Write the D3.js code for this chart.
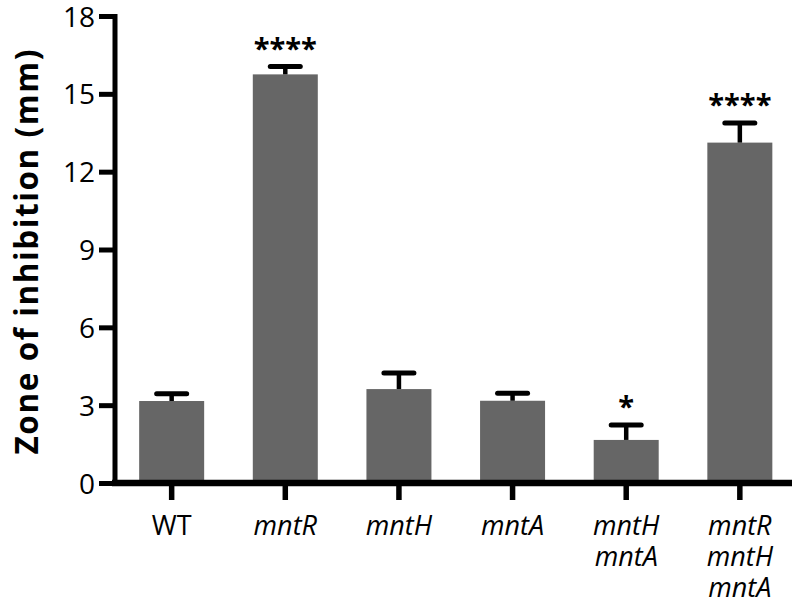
<!DOCTYPE html>
<html>
<head>
<meta charset="utf-8">
<script src="https://cdn.jsdelivr.net/npm/d3@7"></script>
<style>
  html, body { margin: 0; padding: 0; background: #fff; }
  svg { display: block; }
  text { font-family: "Open Sans", "Liberation Sans", sans-serif; fill: #000; }
</style>
</head>
<body>
<svg id="chart" width="800" height="605"></svg>
<script>
// ---- data ----
const categories = ["WT", "mntR", "mntH", "mntA", "mntH mntA", "mntR mntH mntA"];
const labelLines = [["WT"], ["mntR"], ["mntH"], ["mntA"], ["mntH", "mntA"], ["mntR", "mntH", "mntA"]];
const italicLabel = [false, true, true, true, true, true];
const means = [3.16, 15.75, 3.62, 3.17, 1.66, 13.12];
const errors = [0.28, 0.30, 0.62, 0.29, 0.58, 0.76];
const significance = ["", "****", "", "", "*", "****"];
const yTicks = [0, 3, 6, 9, 12, 15, 18];
const yTitle = "Zone of inhibition (mm)";

// ---- layout ----
const svg = d3.select("#chart");
const y = d3.scaleLinear().domain([0, 18]).range([483, 16]);
const x = d3.scaleBand().domain(categories).range([114.5, 797])
  .paddingInner(0.428).paddingOuter(0.217);
const xAxisEnd = 792;

// bars
svg.append("g").selectAll("rect").data(categories).join("rect")
  .attr("x", d => x(d))
  .attr("width", x.bandwidth())
  .attr("y", (d, i) => y(means[i]))
  .attr("height", (d, i) => y(0) - y(means[i]))
  .attr("fill", "#666666");

// error bars (upper only)
const eb = svg.append("g").attr("stroke", "#000").attr("fill", "none");
categories.forEach((c, i) => {
  const cx = x(c) + x.bandwidth() / 2;
  eb.append("line").attr("x1", cx).attr("x2", cx)
    .attr("y1", y(means[i])).attr("y2", y(means[i] + errors[i]))
    .attr("stroke-width", 4.5);
  eb.append("line").attr("x1", cx - 15).attr("x2", cx + 15)
    .attr("y1", y(means[i] + errors[i])).attr("y2", y(means[i] + errors[i]))
    .attr("stroke-width", 5).attr("stroke-linecap", "round");
});

// significance
svg.append("g").selectAll("text").data(categories).join("text")
  .attr("x", d => x(d) + x.bandwidth() / 2)
  .attr("y", (d, i) => y(means[i] + errors[i]) - 8)
  .attr("text-anchor", "middle")
  .attr("font-size", 29)
  .attr("font-weight", 700)
  .text((d, i) => significance[i]);

// y axis
const yAxis = svg.append("g").attr("transform", "translate(114.5,0)")
  .call(d3.axisLeft(y).tickValues(yTicks).tickFormat(d3.format("d")).tickSize(15.5).tickSizeOuter(0).tickPadding(4));
yAxis.select(".domain").attr("stroke-width", 5).attr("stroke-linecap", "square");
yAxis.selectAll(".tick line").attr("stroke-width", 5);
yAxis.selectAll(".tick text").attr("font-size", 28).attr("dy", "0.36em")
  .style("font-family", "'Open Sans', sans-serif");

// x axis
const xAxis = svg.append("g").attr("transform", `translate(0,${y(0)})`)
  .call(d3.axisBottom(x).tickSize(17).tickSizeOuter(0).tickFormat(""));
xAxis.select(".domain").remove();
xAxis.append("line").attr("x1", x.range()[0] - 2.5).attr("x2", xAxisEnd)
  .attr("stroke", "#000").attr("stroke-width", 6.5);
xAxis.selectAll(".tick line").attr("stroke-width", 5.5);

// x labels
const lbl = svg.append("g");
categories.forEach((c, i) => {
  const t = lbl.append("text")
    .attr("x", x(c) + x.bandwidth() / 2)
    .attr("y", 535)
    .attr("text-anchor", "middle")
    .attr("font-size", 27)
    .attr("font-style", italicLabel[i] ? "italic" : "normal");
  labelLines[i].forEach((ln, j) => {
    t.append("tspan").attr("x", x(c) + x.bandwidth() / 2)
      .attr("dy", j === 0 ? 0 : 31).text(ln);
  });
});

// y title
svg.append("text")
  .attr("transform", "translate(38,252) rotate(-90)")
  .attr("text-anchor", "middle")
  .attr("font-size", 31.5)
  .attr("font-weight", "bold")
  .attr("textLength", 405)
  .attr("lengthAdjust", "spacing")
  .text(yTitle);
</script>
</body>
</html>
